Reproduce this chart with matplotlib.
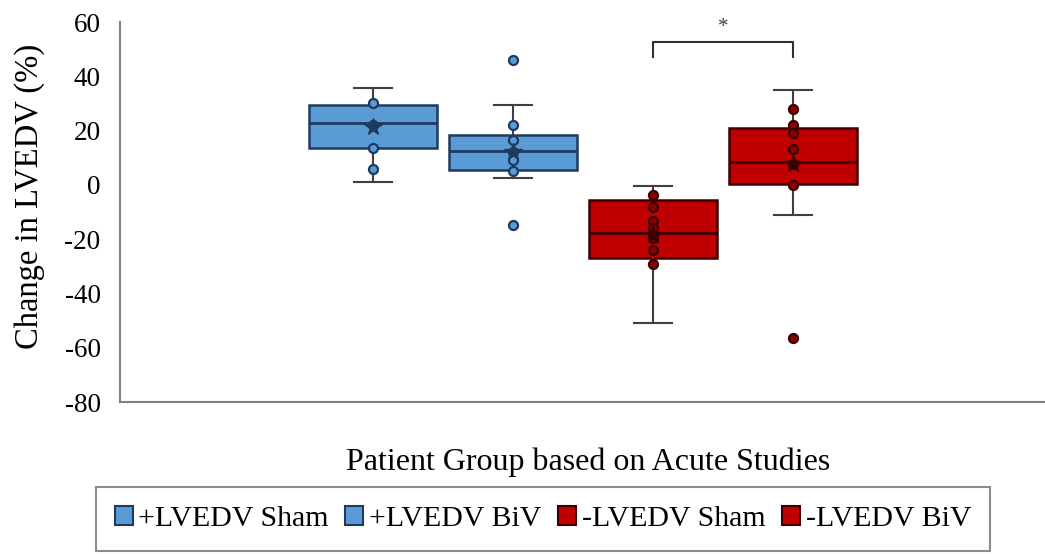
import matplotlib
matplotlib.use("Agg")
import matplotlib.pyplot as plt
from matplotlib.patches import Patch

plt.rcParams['font.family'] = ['Liberation Serif', 'DejaVu Serif']

# ---- data ----
groups = ['+LVEDV Sham', '+LVEDV BiV', '-LVEDV Sham', '-LVEDV BiV']
q1 = [13.5, 5.5, -27.0, 0.4]
median = [22.7, 12.5, -17.8, 8.6]
q3 = [29.5, 18.4, -5.6, 20.9]
whisker_low = [1.2, 2.5, -50.8, -11.1]
whisker_high = [35.8, 29.3, -0.3, 34.8]
means = [21.5, 12.1, -18.5, 7.7]
inner_points = [
    [30.0, 22.0, 13.5, 6.0],
    [22.0, 16.5, 12.0, 9.2, 5.2],
    [-3.7, -8.1, -13.3, -15.9, -19.6, -24.0, -29.2],
    [28.0, 22.1, 19.1, 13.2, 7.7, 0.0],
]
outliers = [[], [45.9, -14.9], [], [-56.6]]
sig_pair = (3, 4)
sig_label = '*'
yticks = [60, 40, 20, 0, -20, -40, -60, -80]

fill_colors = ['#5B9BD5', '#5B9BD5', '#C00000', '#C00000']
edge_colors = ['#1F3A5F', '#1F3A5F', '#3A0000', '#3A0000']
point_face = ['#5B9BD5', '#5B9BD5', '#8B0000', '#8B0000']

positions = [1, 2, 3, 4]

fig = plt.figure(figsize=(10.45, 5.54), dpi=100)
ax = fig.add_axes([120/1045, 1-402/554, 1-120/1045, (402-22)/554])

stats = []
for i in range(4):
    stats.append(dict(med=median[i], q1=q1[i], q3=q3[i], whislo=whisker_low[i],
                      whishi=whisker_high[i], mean=means[i], fliers=[]))

bp = ax.bxp(stats, positions=positions, widths=0.914, patch_artist=True,
            showmeans=False, showfliers=False,
            whiskerprops=dict(color='#404040', lw=1.5),
            capprops=dict(color='#404040', lw=1.5),
            medianprops=dict(lw=2.0),
            boxprops=dict(lw=1.8), capwidths=0.27)
for i, b in enumerate(bp['boxes']):
    b.set_facecolor(fill_colors[i])
    b.set_edgecolor(edge_colors[i])
for i, m in enumerate(bp['medians']):
    m.set_color(edge_colors[i])

for i in range(4):
    x = positions[i]
    ax.plot([x]*len(inner_points[i]), inner_points[i], 'o', ms=6.5,
            mfc=point_face[i], mec=edge_colors[i], mew=1.6, zorder=4)
    if outliers[i]:
        ax.plot([x]*len(outliers[i]), outliers[i], 'o', ms=6.5,
                mfc=point_face[i], mec=edge_colors[i], mew=1.6, zorder=4)
    ax.plot([x], [means[i]], marker='*', ms=13, mfc=edge_colors[i],
            mec=edge_colors[i], zorder=5)

# significance bracket
xa, xb = sig_pair
ax.plot([xa, xa, xb, xb], [47.1, 52.6, 52.6, 47.1], color='#303030', lw=1.5,
        clip_on=False)
ax.text((xa+xb)/2, 58.0, sig_label, ha='center', va='center', fontsize=15,
        color='#404040')

ax.set_ylim(-80, 60)
ax.set_xlim(-0.807, 5.8)
ax.set_yticks(yticks)
ax.set_yticklabels([str(t) for t in yticks])
ax.set_xticks([])
ax.tick_params(axis='y', length=0, pad=14, labelsize=19.5)
for s in ['top', 'right']:
    ax.spines[s].set_visible(False)
for s in ['left', 'bottom']:
    ax.spines[s].set_color('#808080')
    ax.spines[s].set_linewidth(1.5)

fig.text(30/1045, 1-196/554, 'Change in LVEDV (%)', rotation=90,
         ha='center', va='center', fontsize=23.5)
fig.text(588/1045, 1-462/554, 'Patient Group based on Acute Studies',
         ha='center', va='center', fontsize=23)

handles = [Patch(facecolor=fill_colors[i], edgecolor=edge_colors[i], lw=1.5)
           for i in range(4)]
leg = fig.legend(handles, groups, loc='center', bbox_to_anchor=(543/1045, 1-519/554),
                 ncol=4, fontsize=21.5, frameon=True, fancybox=False,
                 handlelength=0.6, handleheight=0.6, handletextpad=0.2,
                 columnspacing=0.55, borderpad=0.62)
leg.get_frame().set_edgecolor('#707070')
leg.get_frame().set_linewidth(1.5)

fig.savefig('out.png', dpi=100)
